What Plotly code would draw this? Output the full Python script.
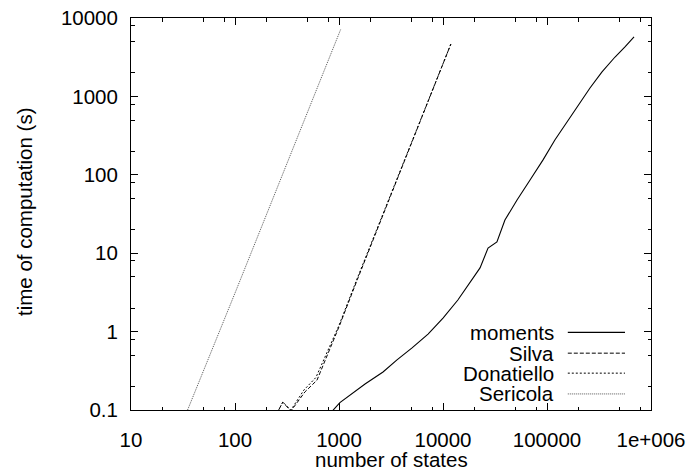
import plotly.graph_objects as go

# ---------------- data ----------------
x_tickvals = [10, 100, 1000, 10000, 100000, 1000000]
x_ticktext = ["10", "100", "1000", "10000", "100000", "1e+006"]
y_tickvals = [0.1, 1, 10, 100, 1000, 10000]
y_ticktext = ["0.1", "1", "10", "100", "1000", "10000"]

moments_states = [850, 1020, 1780, 2650, 3610, 5040, 7180, 10000, 13900, 18200,
                  22700, 27100, 33000, 39400, 51500, 68700, 91600, 119000,
                  149000, 199000, 259000, 338000, 451000, 562000, 687000]
moments_time = [0.095, 0.124, 0.215, 0.305, 0.435, 0.62, 0.93, 1.49, 2.53, 4.17,
                6.5, 11.6, 13.9, 26.5, 47.7, 86, 155, 278,
                432, 776, 1280, 2050, 3180, 4270, 5730]

silva_states = [250, 288, 345, 470, 614, 800, 1000, 1500, 2000, 3000, 4000,
                6000, 8000, 11900]
silva_time = [0.088, 0.126, 0.097, 0.17, 0.24, 0.55, 1.15, 4.6, 12, 47, 122,
              470, 1230, 4650]

donatiello_states = [250, 288, 345, 460, 600, 800, 1000, 1500, 2000, 3000, 4000,
                     6000, 8000, 11900]
donatiello_time = [0.088, 0.126, 0.1, 0.18, 0.26, 0.6, 1.2, 4.8, 12.4, 48, 124,
                   475, 1240, 4650]

sericola_states = [35, 50, 100, 200, 400, 700, 1040]
sericola_time = [0.1, 0.315, 3.1, 30.7, 305, 1930, 7200]

series_names = ["moments", "Silva", "Donatiello", "Sericola"]

# ---------------- styles ----------------
FONT = "Liberation Sans, Arial, sans-serif"
FS = 20.5
styles = {
    "moments": dict(color="black", width=1.1, dash="solid"),
    "Silva": dict(color="black", width=1, dash="4px,2px"),
    "Donatiello": dict(color="black", width=1, dash="2px,2px"),
    "Sericola": dict(color="#555555", width=1, dash="1px,1px"),
}
data_map = {
    "moments": (moments_states, moments_time),
    "Silva": (silva_states, silva_time),
    "Donatiello": (donatiello_states, donatiello_time),
    "Sericola": (sericola_states, sericola_time),
}

fig = go.Figure()
for name in series_names:
    xs, ys = data_map[name]
    fig.add_trace(go.Scatter(x=xs, y=ys, mode="lines", name=name,
                             line=styles[name], showlegend=False))

# minor tick positions (2, 5, 8 in each decade)
x_minor = [m * d for d in [10, 100, 1000, 10000, 100000] for m in (2, 5, 8)]
y_minor = [m * d for d in [0.1, 1, 10, 100, 1000] for m in (2, 5, 8)]

axis_common = dict(
    type="log", showgrid=False, zeroline=False, automargin=False,
    showline=True, linecolor="black", linewidth=1, mirror="allticks",
    ticks="inside", ticklen=7, tickwidth=1, tickcolor="black",
    tickfont=dict(family=FONT, size=FS, color="black"),
)

fig.update_xaxes(
    **axis_common,
    range=[1, 6], tickvals=x_tickvals, ticktext=x_ticktext,
    ticklabelstandoff=11,
    minor=dict(tickvals=x_minor, ticks="inside", ticklen=3.5, tickcolor="black", tickwidth=1),
)
fig.update_yaxes(
    **axis_common,
    range=[-1, 4], tickvals=y_tickvals, ticktext=y_ticktext,
    ticklabelstandoff=8,
    minor=dict(tickvals=y_minor, ticks="inside", ticklen=3.5, tickcolor="black", tickwidth=1),
)

# axis titles
fig.add_annotation(x=0.5, y=0, xref="paper", yref="paper", text="number of states",
                   showarrow=False, xanchor="center", yanchor="middle",
                   font=dict(family=FONT, size=FS, color="black"))
fig.add_annotation(x=0, y=0.5, xref="paper", yref="paper", text="time of computation (s)",
                   showarrow=False, textangle=-90, xanchor="center", yanchor="middle",
                   font=dict(family=FONT, size=FS, color="black"))

# gnuplot-style key: label on the left, line sample on the right
key_rows_y = [0.198, 0.145, 0.094, 0.041]
for name, yy in zip(series_names, key_rows_y):
    fig.add_annotation(x=0.818, y=yy, xref="paper", yref="paper", text=name,
                       showarrow=False, xanchor="right", yanchor="middle",
                       font=dict(family=FONT, size=FS, color="black"))
    st = styles[name]
    fig.add_shape(type="line", xref="paper", yref="paper",
                  x0=0.840, x1=0.950, y0=yy, y1=yy,
                  line=dict(color=st["color"], width=st["width"], dash=st["dash"]))

fig.update_layout(
    width=689, height=471,
    margin=dict(l=131, r=38, t=18, b=61),
    paper_bgcolor="white", plot_bgcolor="white",
    font=dict(family=FONT, size=FS, color="black"),
)

# place axis-title annotations in pixel terms relative to the plot area
plot_h = 471 - 18 - 61
plot_w = 689 - 131 - 38
fig.layout.annotations[0].y = (410 - 459) / plot_h
fig.layout.annotations[1].x = (24 - 131) / plot_w
fig.layout.annotations[1].y = (410 - 212) / plot_h

fig.write_html("out.html", config={"displayModeBar": False},
               post_script="document.body.style.margin='0';document.body.style.overflow='hidden';")
